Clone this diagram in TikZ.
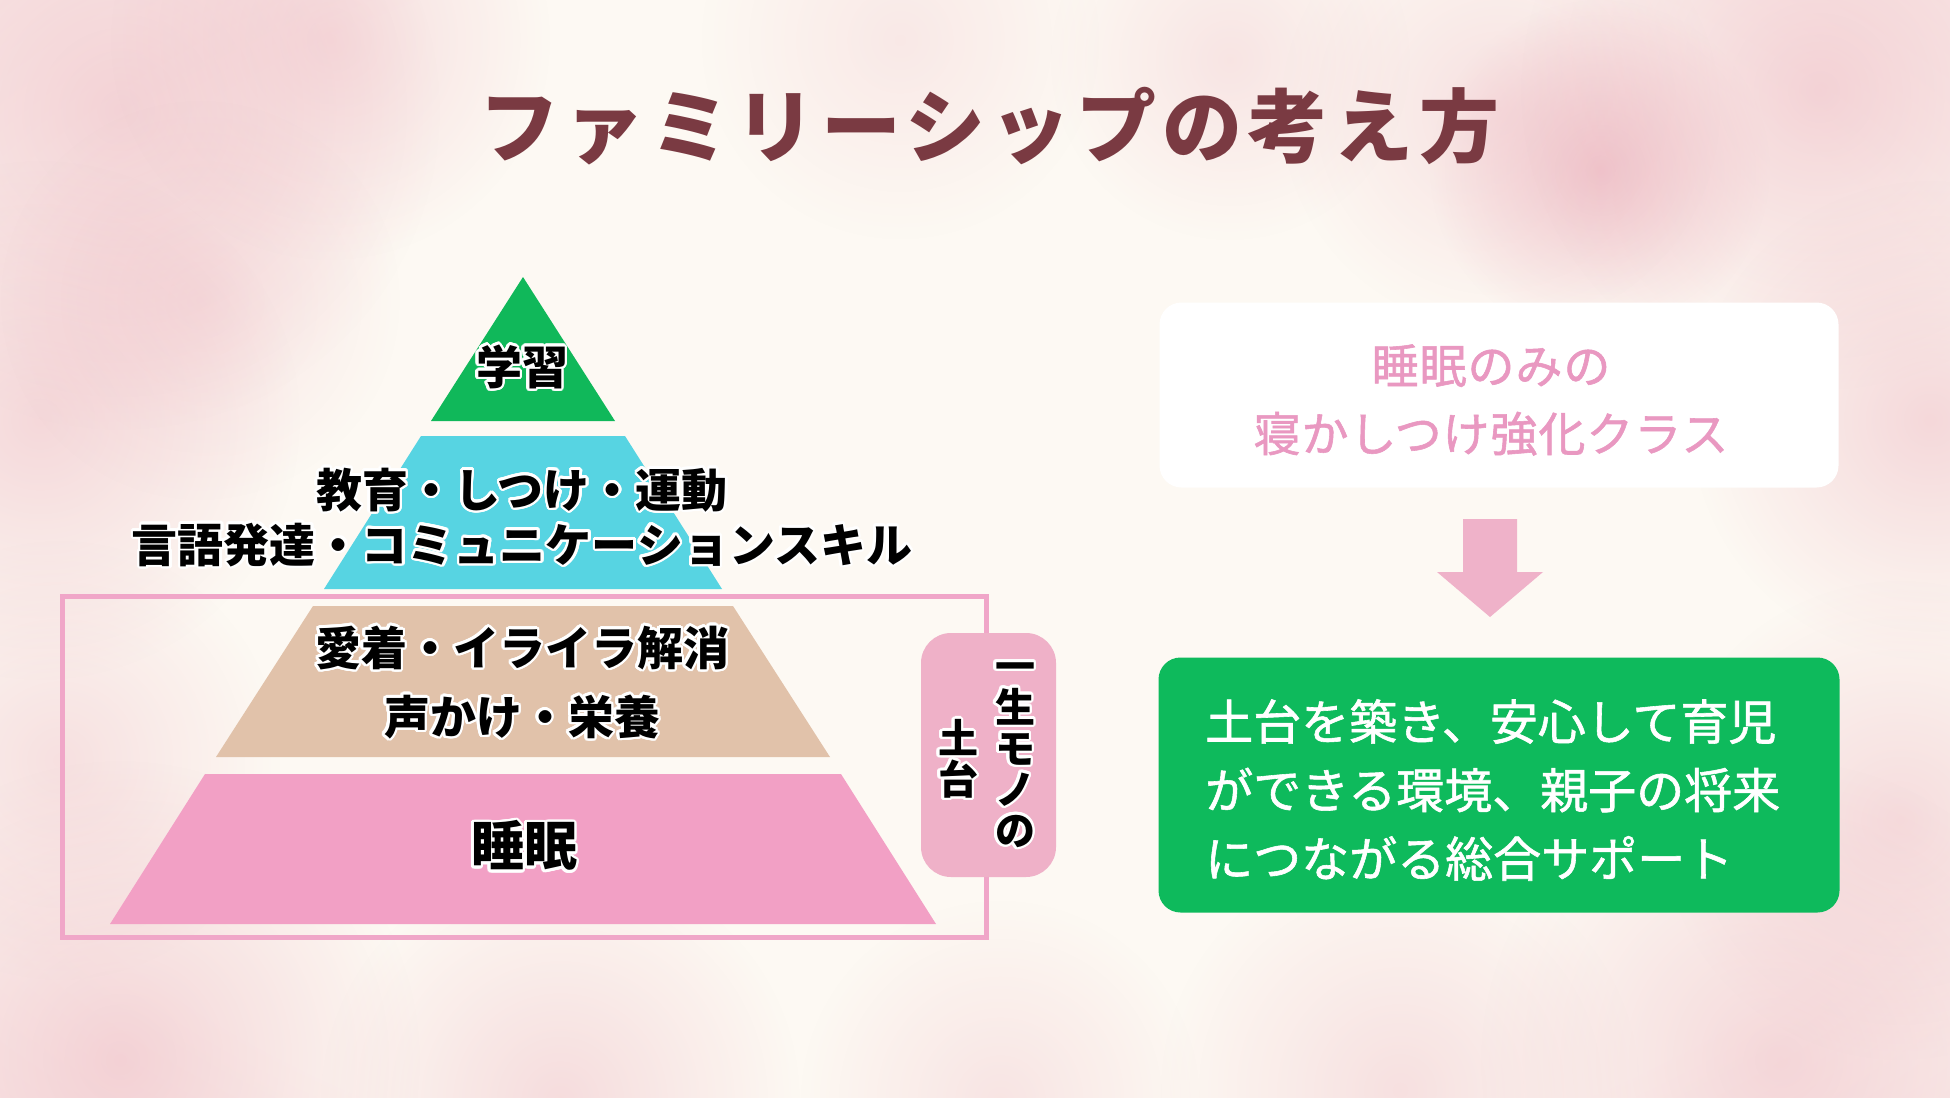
\documentclass[tikz,border=0pt]{standalone}
\usepackage{fontspec}
\usepackage[copies]{contour}
\usetikzlibrary{fadings}
\newfontfamily\jp{Noto Sans CJK JP}
\newfontfamily\jptitle{Noto Sans CJK JP}[LetterSpace=7]
\newfontfamily\jpsp{Noto Sans CJK JP}[LetterSpace=2,FakeBold=1.2]
\newfontfamily\jpmed{Noto Sans CJK JP}[FakeBold=1.2]
\definecolor{cream}{HTML}{FDF9F3}
\definecolor{bgpink}{HTML}{F3CDD3}
\definecolor{blobpink}{HTML}{E9A7B5}
\definecolor{titlecol}{HTML}{7A3A42}
\definecolor{pyrgreen}{HTML}{10B85A}
\definecolor{pyrcyan}{HTML}{57D4E2}
\definecolor{pyrtan}{HTML}{E1C2AA}
\definecolor{pyrpink}{HTML}{F2A0C5}
\definecolor{framepink}{HTML}{F0A6C8}
\definecolor{labelpink}{HTML}{EFB1C8}
\definecolor{arrowpink}{HTML}{EFB2C9}
\definecolor{softpink}{HTML}{E998C1}
\definecolor{boxgreen}{HTML}{0EBA5C}
\pgfdeclareradialshading{bgcenter}{\pgfpoint{0bp}{0bp}}{color(0bp)=(cream); color(19bp)=(cream); color(30bp)=(bgpink!55!cream); color(40bp)=(bgpink); color(50bp)=(bgpink)}
\tikzfading[name=blobfade, inner color=transparent!0, outer color=transparent!100]
\contourlength{2.5pt}
\contournumber{24}
\tikzset{
  pyrtext/.style={font=\jp\bfseries\fontsize{46}{50}\selectfont, inner sep=0pt, text=black},
  labtext/.style={font=\jp\bfseries\fontsize{40}{41}\selectfont, inner sep=0pt, text=black, align=center},
  blob/.style={fill=blobpink, path fading=blobfade}
}
\begin{document}
\begin{tikzpicture}[x=1pt,y=-1pt]
\useasboundingbox (0,0) rectangle (1950,1097);
% background
\fill[bgpink] (0,0) rectangle (1950,1097);
\begin{scope}
\clip (0,0) rectangle (1950,1097);
\shade[shading=bgcenter] (975,560) ellipse (1400 and 850);
\foreach \x/\y/\r/\o in {120/110/320/0.45, 330/40/220/0.35, 40/420/260/0.4, 60/760/220/0.3,
  1600/170/170/0.55, 1500/110/220/0.3, 1820/90/300/0.45, 1930/420/240/0.4, 1900/820/240/0.35,
  120/1060/300/0.45, 560/1100/240/0.35, 1000/1100/200/0.25, 1400/1090/240/0.3, 1780/1060/300/0.4,
  900/40/200/0.2, 1230/60/180/0.25, 200/300/200/0.25}
  \fill[blob, opacity=\o] (\x,\y) circle (\r);
\end{scope}
% title
\node[font=\jptitle\bfseries\fontsize{80}{90}\selectfont, text=titlecol, inner sep=0pt] (title) at (989,126) {ファミリーシップの考え方};
% foundation frame
\draw[framepink, line width=5pt] (62,596) rectangle (986,937);
% pyramid
\fill[pyrgreen] (523,277) -- (615,421) -- (431,421) -- cycle;
\fill[pyrcyan] (421,436) -- (625,436) -- (722,589) -- (324,589) -- cycle;
\fill[pyrtan] (313,606) -- (733,606) -- (830,757) -- (216,757) -- cycle;
\fill[pyrpink] (205,774) -- (841,774) -- (936,924) -- (110,924) -- cycle;
\node[pyrtext] (l1) at (522,368) {\contour{white}{学習}};
\node[pyrtext] (l2a) at (522,491) {\contour{white}{教育・しつけ・運動}};
\node[pyrtext] (l2b) at (522,546) {\contour{white}{言語発達・コミュニケーションスキル}};
\node[pyrtext] (l3a) at (522,649) {\contour{white}{愛着・イライラ解消}};
\node[pyrtext] (l3b) at (522,718) {\contour{white}{声かけ・栄養}};
\node[pyrtext, font=\jp\bfseries\fontsize{53}{56}\selectfont] (l4) at (524,847) {\contour{white}{睡眠}};
% side label
\fill[labelpink, rounded corners=30pt] (921,633) rectangle (1056,877);
\node[labtext] (lab1) at (1015,756) {\contour{white}{一}\\\contour{white}{生}\\\contour{white}{モ}\\\contour{white}{ノ}\\\contour{white}{の}};
\node[labtext] (lab2) at (958,760) {\contour{white}{土}\\\contour{white}{台}};
% right side
\node[fill=white, rounded corners=22pt, minimum width=679pt, minimum height=185pt, inner sep=0pt] (box1) at (1499,395) {};
\node[font=\jpsp\fontsize{47}{68}\selectfont, text=softpink, align=center, inner sep=0pt] (box1t) at (1491,400) {睡眠のみの\\寝かしつけ強化クラス};
\fill[arrowpink] (1463,519) -- (1517,519) -- (1517,572) -- (1543,572) -- (1490,617) -- (1437,572) -- (1463,572) -- cycle;
\node[fill=boxgreen, rounded corners=22pt, minimum width=681pt, minimum height=255pt, inner sep=0pt] (box2) at (1499,785) {};
\node[font=\jpmed\fontsize{48}{68.5}\selectfont, text=white, align=left, inner sep=0pt, anchor=west] (box2t) at (1205,790) {土台を築き、安心して育児\\ができる環境、親子の将来\\につながる総合サポート};
\end{tikzpicture}
\end{document}
